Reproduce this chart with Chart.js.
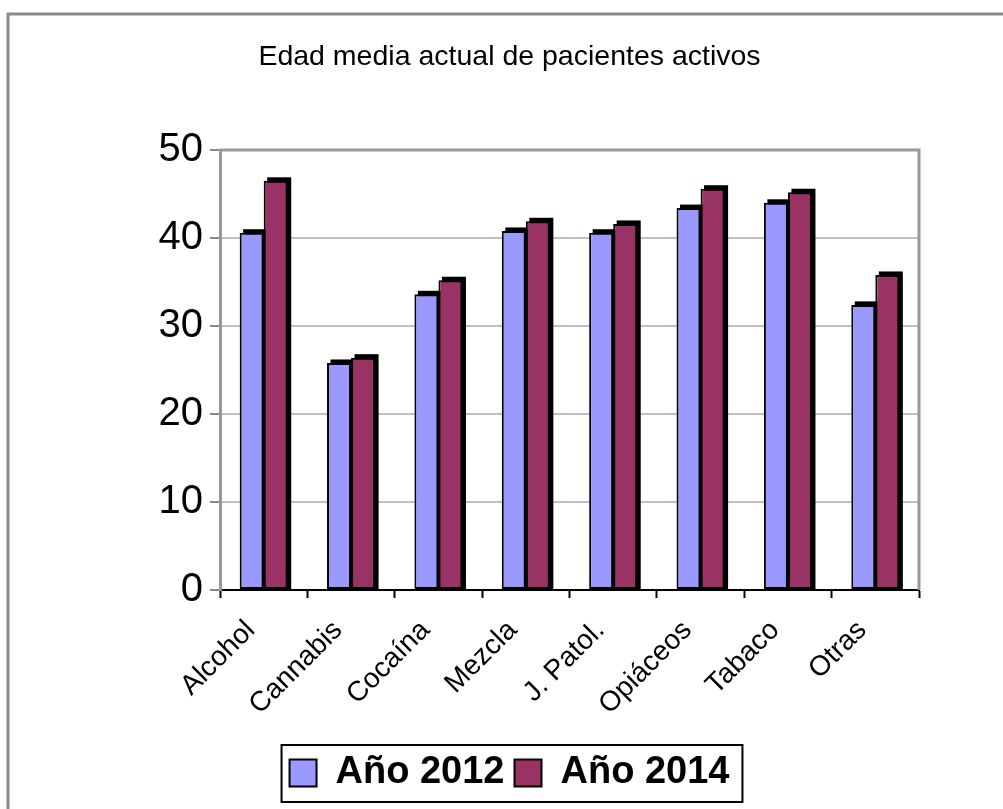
<!DOCTYPE html>
<html><head><meta charset="utf-8">
<script src="https://cdn.jsdelivr.net/npm/chart.js@4/dist/chart.umd.min.js"></script>
<style>html,body{margin:0;padding:0;background:#fff;overflow:hidden;} canvas{display:block;}</style>
</head><body>
<canvas id="c" width="1003" height="809"></canvas>
<script>
const categories = ['Alcohol','Cannabis','Cocaína','Mezcla','J. Patol.','Opiáceos','Tabaco','Otras'];
const seriesNames = ['Año 2012','Año 2014'];
const values2012 = [40.6, 25.8, 33.6, 40.8, 40.6, 43.4, 44.0, 32.4];
const values2014 = [46.5, 26.4, 35.2, 41.9, 41.6, 45.6, 45.2, 35.8];
const yTicks = [0, 10, 20, 30, 40, 50];
const titleText = 'Edad media actual de pacientes activos';

const FONT = "'Liberation Sans', Arial, sans-serif";
Chart.defaults.font.family = FONT;
Chart.defaults.color = '#000';

const framePlugin = {
  id: 'frame',
  beforeDraw(chart) {
    const ctx = chart.ctx;
    ctx.save();
    ctx.fillStyle = '#fff';
    ctx.fillRect(0, 0, chart.width, chart.height);
    ctx.strokeStyle = '#8a8a8a';
    ctx.lineWidth = 3;
    ctx.beginPath();
    ctx.moveTo(8, chart.height + 5);
    ctx.lineTo(8, 14);
    ctx.lineTo(chart.width + 5, 14);
    ctx.stroke();
    ctx.restore();
  },
  afterDraw(chart) {
    const ctx = chart.ctx, a = chart.chartArea;
    ctx.save();
    ctx.strokeStyle = '#999';
    ctx.lineWidth = 3;
    ctx.beginPath();
    ctx.moveTo(a.left, a.top);
    ctx.lineTo(a.right, a.top);
    ctx.lineTo(a.right, a.bottom);
    ctx.stroke();
    const lg = chart.legend;
    if (lg && lg.legendHitBoxes && lg.legendHitBoxes.length) {
      let l = Infinity, r = -Infinity;
      lg.legendHitBoxes.forEach(h => { l = Math.min(l, h.left); r = Math.max(r, h.left + h.width); });
      ctx.strokeStyle = '#000';
      ctx.lineWidth = 2;
      ctx.strokeRect(l - 8, lg.top + 1, (r - l) + 21, 57);
    }
    ctx.restore();
  }
};

const shadowPlugin = {
  id: 'shadow',
  beforeDatasetsDraw(chart) {
    const ctx = chart.ctx;
    ctx.save();
    ctx.fillStyle = '#000';
    chart.data.datasets.forEach((ds, i) => {
      const meta = chart.getDatasetMeta(i);
      meta.data.forEach(el => {
        const p = el.getProps(['x', 'y', 'base', 'width'], true);
        ctx.fillRect(p.x - p.width / 2 + 3.5, p.y - 3.5, p.width, p.base - p.y + 3.5);
      });
    });
    ctx.restore();
  }
};

new Chart(document.getElementById('c'), {
  type: 'bar',
  data: {
    labels: categories,
    datasets: [
      { label: seriesNames[0], data: values2012, backgroundColor: '#9999FF', borderColor: '#000', borderWidth: 2, borderSkipped: false },
      { label: seriesNames[1], data: values2014, backgroundColor: '#993366', borderColor: '#000', borderWidth: 2, borderSkipped: false }
    ]
  },
  options: {
    responsive: false,
    animation: false,
    devicePixelRatio: 1,
    layout: { padding: { left: 100, right: 84, top: 0, bottom: 7 } },
    datasets: { bar: { categoryPercentage: 0.55, barPercentage: 1.0 } },
    plugins: {
      tooltip: { enabled: false },
      title: {
        display: true, text: titleText, color: '#000',
        font: { family: FONT, size: 28.5, weight: 'normal', lineHeight: 1.2 },
        padding: { top: 40, bottom: 75.8 }
      },
      legend: {
        display: true, position: 'bottom',
        labels: {
          color: '#000', boxWidth: 27, boxHeight: 27, padding: 10,
          font: { family: FONT, size: 38, weight: 'bold' }
        }
      }
    },
    scales: {
      x: {
        afterFit(s) { s.height = 154; },
        grid: { drawOnChartArea: false, drawTicks: true, tickLength: 8, tickColor: '#000', tickWidth: 2, offset: true },
        border: { display: true, color: '#000', width: 2 },
        ticks: { minRotation: 45, maxRotation: 45, color: '#000', padding: 16, labelOffset: -13, font: { family: FONT, size: 28 } }
      },
      y: {
        min: 0, max: 50,
        afterFit(s) { s.width = 120; },
        afterBuildTicks(s) { s.ticks = yTicks.map(v => ({ value: v })); },
        grid: { color: '#c0c0c0', lineWidth: 2, drawTicks: true, tickLength: 10, tickColor: '#888', tickWidth: 2 },
        border: { display: true, color: '#999', width: 3 },
        ticks: { color: '#000', padding: 7, font: { family: FONT, size: 40 } }
      }
    }
  },
  plugins: [framePlugin, shadowPlugin]
});
</script>
</body></html>
